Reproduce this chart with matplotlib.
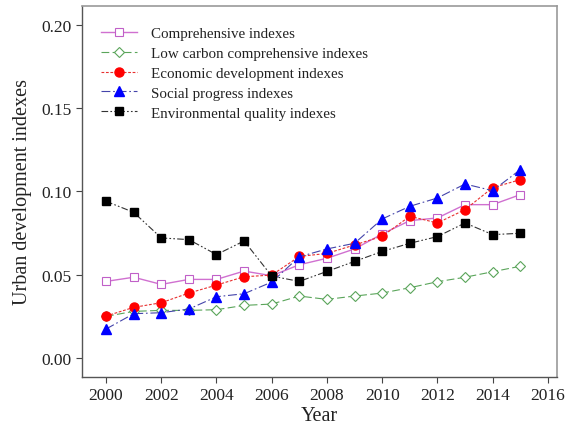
import matplotlib
matplotlib.use("Agg")
import matplotlib.pyplot as plt

years = list(range(2000, 2016))
comprehensive = [0.046, 0.0485, 0.0442, 0.0472, 0.0472, 0.0522, 0.0494, 0.056,
                 0.0599, 0.0655, 0.0745, 0.0825, 0.0841, 0.0921, 0.0921, 0.0981]
low_carbon = [0.025, 0.028, 0.0286, 0.0286, 0.029, 0.0316, 0.0324, 0.0372,
              0.0352, 0.0372, 0.039, 0.0422, 0.0458, 0.0485, 0.0518, 0.0551]
economic = [0.0252, 0.0304, 0.0332, 0.039, 0.0438, 0.0488, 0.0498, 0.061,
            0.0628, 0.0679, 0.0731, 0.0851, 0.0811, 0.0891, 0.1023, 0.1071]
social = [0.0174, 0.0266, 0.0272, 0.0294, 0.0368, 0.0386, 0.0456, 0.0608,
          0.0655, 0.0689, 0.0835, 0.0911, 0.0961, 0.1045, 0.1005, 0.1131]
environmental = [0.0941, 0.0875, 0.0721, 0.0711, 0.0621, 0.0703, 0.0492, 0.046,
                 0.052, 0.058, 0.064, 0.0689, 0.0729, 0.0811, 0.0741, 0.0749]

labels = ["Comprehensive indexes", "Low carbon comprehensive indexes",
          "Economic development indexes", "Social progress indexes",
          "Environmental quality indexes"]
xticks = list(range(2000, 2017, 2))
yticks = [0.00, 0.05, 0.10, 0.15, 0.20]

plt.rcParams['font.family'] = ['Liberation Serif', 'DejaVu Serif']

fig = plt.figure(figsize=(5.68, 4.27), dpi=100)
ax = fig.add_axes([0.1444, 0.1148, 0.8362, 0.8688])

lw = 0.8
ax.plot(years, comprehensive, color='#D070D0', linestyle='-', lw=1.0, marker='s',
        markersize=5.5, markerfacecolor='white', markeredgecolor='#C060C8',
        markeredgewidth=0.8, label=labels[0])
ax.plot(years, low_carbon, color='#5AA55A', linestyle=(0, (7, 3)), lw=lw, marker='D',
        markersize=5, markerfacecolor='white', markeredgecolor='#5AA55A',
        markeredgewidth=0.8, label=labels[1])
ax.plot(years, economic, color='#E83030', linestyle=(0, (2.5, 1.5)), lw=lw, marker='o',
        markersize=6.5, markerfacecolor='#FF0000', markeredgecolor='#FF0000',
        label=labels[2])
ax.plot(years, social, color='#4444AA', linestyle=(0, (8, 2.5, 1.5, 2.5)), lw=lw, marker='^',
        markersize=7.5, markerfacecolor='#0000FF', markeredgecolor='#0000FF',
        label=labels[3])
ax.plot(years, environmental, color='#333333', linestyle=(0, (6, 2, 1.5, 2, 1.5, 2)), lw=lw,
        marker='s', markersize=5.5, markerfacecolor='black', markeredgecolor='black',
        label=labels[4])

ax.set_xlim(1999.13, 2016.33)
ax.set_ylim(-0.0114, 0.2114)
ax.set_xticks(xticks)
ax.set_yticks(yticks)
ax.set_yticklabels([f"{v:.2f}" for v in yticks])
ax.tick_params(axis='both', direction='out', length=4, width=0.8, labelsize=12.5,
               colors='#444444', labelcolor='#222222')
ax.tick_params(top=False, right=False)

for side in ['left', 'bottom']:
    ax.spines[side].set_color('#555555')
    ax.spines[side].set_linewidth(1.0)
for side in ['top', 'right']:
    ax.spines[side].set_color('#999999')
    ax.spines[side].set_linewidth(1.2)

ax.set_xlabel("Year", fontsize=14.5, labelpad=2, color='#222222')
ax.set_ylabel("Urban development indexes", fontsize=14.5, labelpad=7, color='#222222')

leg = ax.legend(loc='upper left', frameon=False, fontsize=10.8, handlelength=2.4,
                borderaxespad=0.0, labelspacing=0.42, handletextpad=0.9,
                bbox_to_anchor=(0.028, 0.96))
for t in leg.get_texts():
    t.set_color('#222222')

fig.savefig("out.png", dpi=100)
